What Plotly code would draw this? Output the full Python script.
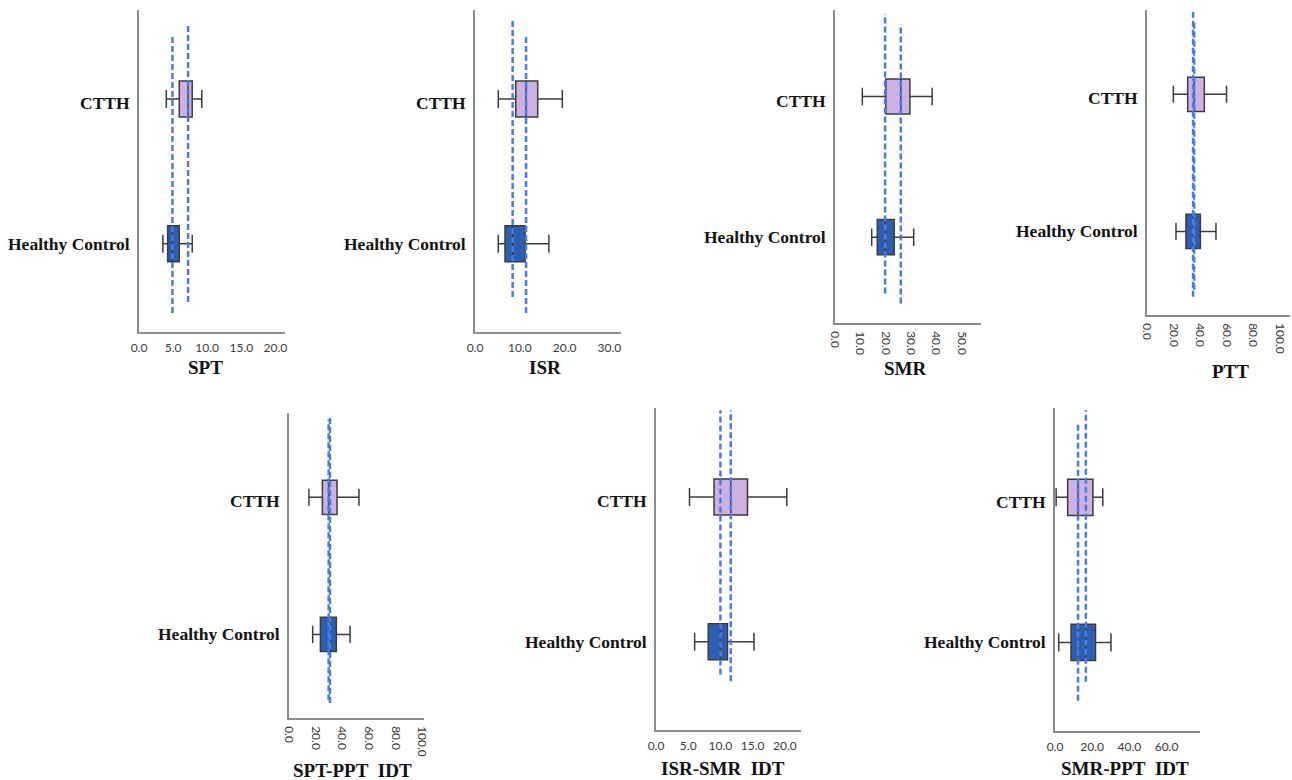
import plotly.graph_objects as go

# ---------------- data ----------------
panels = ["SPT", "ISR", "SMR", "PTT", "SPT-PPT\u00a0 IDT", "ISR-SMR\u00a0 IDT", "SMR-PPT\u00a0 IDT"]
groups = ["Healthy Control", "CTTH"]
group_pos = [0, 1]

hc_lo = [3.5, 5.2, 14.5, 21.9, 17.8, 6.0, 2.0]
hc_q1 = [4.2, 6.7, 16.7, 29.4, 23.6, 8.1, 8.6]
hc_med = [4.9, 8.4, 19.8, 34.8, 30.8, 10.0, 16.6]
hc_q3 = [5.9, 11.2, 23.4, 40.3, 35.6, 11.1, 21.8]
hc_hi = [7.8, 16.5, 31.1, 52.1, 45.9, 15.2, 30.1]

ct_lo = [4.0, 5.2, 10.8, 19.9, 15.0, 5.2, 0.6]
ct_q1 = [5.9, 9.1, 20.1, 30.7, 25.1, 9.0, 6.8]
ct_med = [7.2, 11.4, 26.0, 35.6, 29.8, 11.6, 12.4]
ct_q3 = [7.8, 14.0, 29.6, 43.3, 36.1, 14.2, 20.4]
ct_hi = [9.2, 19.5, 38.4, 60.1, 52.6, 20.3, 25.7]

# vertical extent of the dashed median reference lines (y data units)
hc_line_y = [(-0.479, 1.44), (-0.368, 1.542), (-0.40, 1.586), (-0.476, 1.60),
             (-0.50, 1.587), (-0.226, 1.60), (-0.271, 1.60)]
ct_line_y = [(-0.403, 1.52), (-0.479, 1.444), (-0.471, 1.514), (-0.425, 1.538),
             (-0.48, 1.565), (-0.274, 1.60), (-0.402, 1.502)]

x_max = [21.4, 32.6, 57.7, 108, 101.5, 22.5, 78]
x_dtick = [5, 10, 10, 20, 20, 5, 20]
tick_angle = [0, 0, 90, 90, 90, 0, 0]

# ---------------- layout geometry (pixels) ----------------
W, H = 1292, 780
px_left = [139, 475, 835, 1147, 289, 656, 1055]
px_right = [285, 621, 981, 1290, 424, 801, 1200]
px_top = [10, 10, 10, 10, 413, 408, 408]
px_bottom = [332, 332, 323, 315, 718, 730, 731]
title_x = [205, 545, 905, 1230, 352, 723, 1125]
title_y = [367, 367, 368, 371, 770, 768, 768]
label_dy = [0.0, -0.03]

HC_FILL = "#2E5EB2"
CT_FILL = "#CDB0E4"
BOX_LINE = "#3c3c3c"
DASH_COL = "#4A7CE0"
SERIF = "Liberation Serif, Times New Roman, serif"

fig = go.Figure()
layout = dict(
    width=W, height=H,
    margin=dict(l=0, r=0, t=0, b=0, autoexpand=False),
    paper_bgcolor="white", plot_bgcolor="white",
    showlegend=False,
)

annotations = []
for i, name in enumerate(panels):
    n = "" if i == 0 else str(i + 1)
    xa, ya = "x" + n, "y" + n
    for pos, lo, q1, med, q3, hi, fill in [
        (0, hc_lo[i], hc_q1[i], hc_med[i], hc_q3[i], hc_hi[i], HC_FILL),
        (1, ct_lo[i], ct_q1[i], ct_med[i], ct_q3[i], ct_hi[i], CT_FILL),
    ]:
        fig.add_trace(go.Box(
            y=[pos], q1=[q1], median=[med], q3=[q3], lowerfence=[lo], upperfence=[hi],
            orientation="h", width=0.25, whiskerwidth=0.5,
            fillcolor=fill, line=dict(color=BOX_LINE, width=1.5),
            boxpoints=False, xaxis=xa, yaxis=ya, hoverinfo="skip",
        ))
    for val, ext in [(hc_med[i], hc_line_y[i]), (ct_med[i], ct_line_y[i])]:
        fig.add_trace(go.Scatter(
            x=[val, val], y=list(ext), mode="lines",
            line=dict(color=DASH_COL, width=2.5, dash="6px,3px"),
            xaxis=xa, yaxis=ya, hoverinfo="skip",
        ))

    layout["xaxis" + n] = dict(
        domain=[px_left[i] / W, px_right[i] / W],
        anchor=ya, range=[0, x_max[i]], dtick=x_dtick[i], tick0=0,
        tickformat=".1f", tickangle=tick_angle[i],
        showline=True, linecolor="#8c8c8c", linewidth=1.5,
        showgrid=False, zeroline=False, ticks="",
        ticklabelstandoff=4,
        tickfont=dict(family="Lato, Open Sans, sans-serif", size=12, color="#3a3a3a"),
    )
    layout["yaxis" + n] = dict(
        domain=[1 - px_bottom[i] / H, 1 - px_top[i] / H],
        anchor=xa, range=[-0.61, 1.615],
        showticklabels=False,
        showline=True, linecolor="#8c8c8c", linewidth=1.5,
        showgrid=False, zeroline=False, ticks="",
    )
    for pos, g, dy in zip(group_pos, groups, label_dy):
        annotations.append(dict(
            text="<b>%s</b>" % g, x=0, y=pos + dy,
            xref=xa + " domain", yref=ya, showarrow=False,
            xanchor="right", yanchor="middle", xshift=-7,
            font=dict(family=SERIF, size=17.5, color="#111"),
        ))
    annotations.append(dict(
        text="<b>%s</b>" % name, x=title_x[i] / W, y=1 - title_y[i] / H,
        xref="paper", yref="paper", showarrow=False,
        xanchor="center", yanchor="middle",
        font=dict(family=SERIF, size=19, color="#111"),
    ))

layout["annotations"] = annotations
fig.update_layout(**layout)
fig.write_html(
    "out.html",
    config={"displayModeBar": False},
    post_script="document.body.style.margin='0';document.body.style.overflow='hidden';",
)
